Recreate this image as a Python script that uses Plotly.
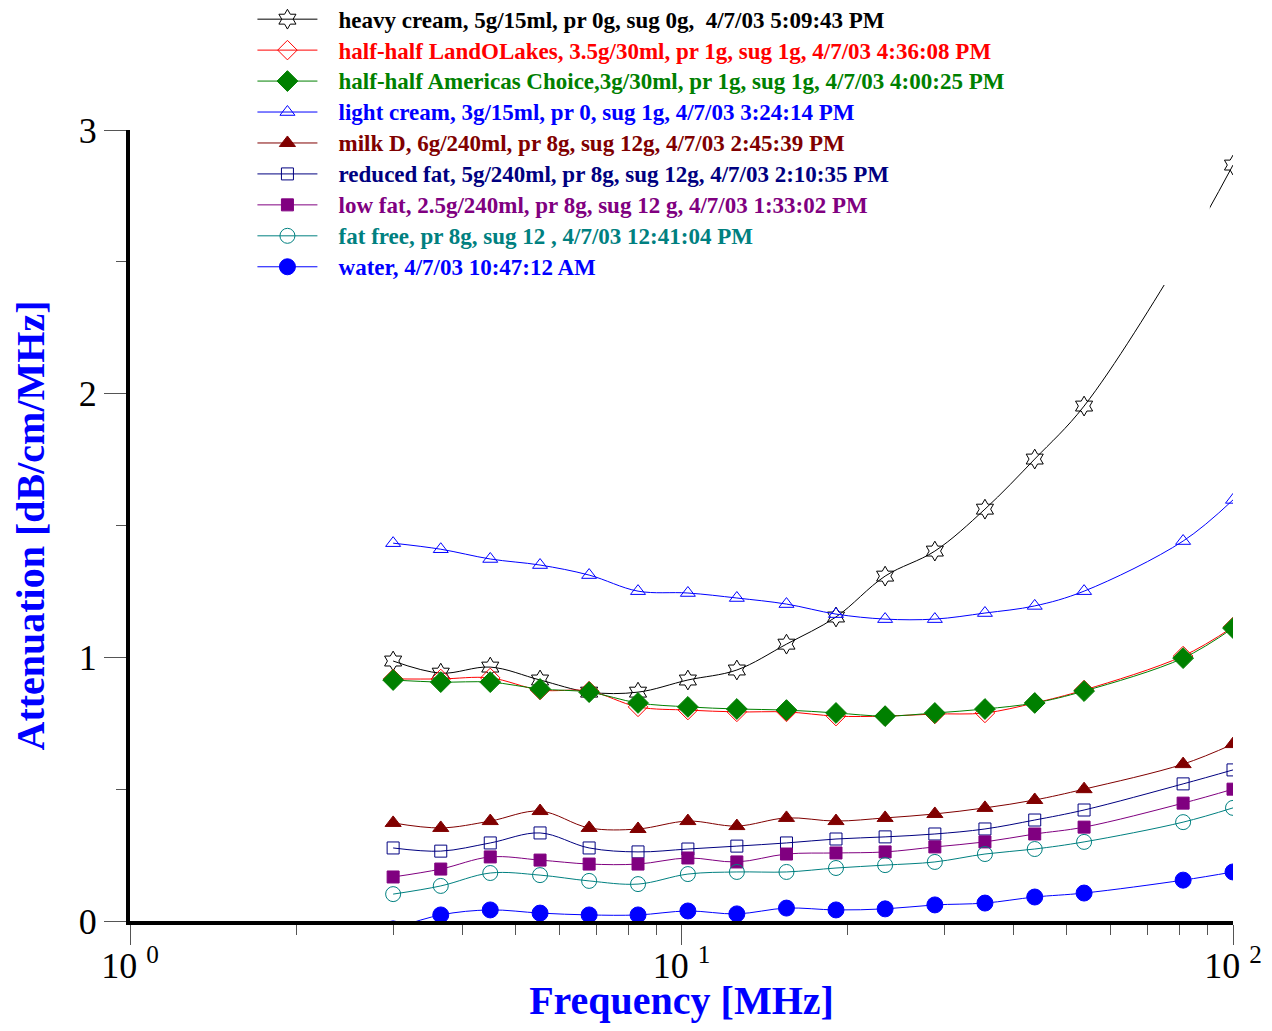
import plotly.graph_objects as go

freq = [3.0, 3.66, 4.5, 5.54, 6.8, 8.34, 10.27, 12.6, 15.5, 19.06, 23.4, 28.8, 35.5, 43.7, 53.7, 81.2, 100.0]

heavy_cream = [0.986, 0.94, 0.963, 0.914, 0.868, 0.868, 0.914, 0.952, 1.05, 1.153, 1.308, 1.403, 1.562, 1.752, 1.953, 2.53, 2.867]
half_landolakes = [0.918, 0.918, 0.922, 0.876, 0.872, 0.812, 0.80, 0.793, 0.793, 0.777, 0.777, 0.785, 0.789, 0.827, 0.876, 1.005, 1.115]
half_americas = [0.914, 0.906, 0.906, 0.88, 0.868, 0.827, 0.812, 0.804, 0.80, 0.789, 0.777, 0.789, 0.804, 0.827, 0.872, 0.997, 1.111]
light_cream = [1.433, 1.41, 1.373, 1.35, 1.312, 1.251, 1.244, 1.225, 1.202, 1.164, 1.145, 1.145, 1.168, 1.195, 1.251, 1.441, 1.597]
milk_d = [0.372, 0.353, 0.379, 0.417, 0.353, 0.349, 0.379, 0.36, 0.391, 0.379, 0.391, 0.406, 0.429, 0.459, 0.50, 0.595, 0.671]
reduced_fat = [0.277, 0.265, 0.296, 0.334, 0.277, 0.262, 0.273, 0.284, 0.296, 0.311, 0.319, 0.33, 0.349, 0.383, 0.421, 0.52, 0.573]
low_fat = [0.167, 0.197, 0.243, 0.231, 0.216, 0.216, 0.239, 0.224, 0.254, 0.258, 0.262, 0.281, 0.30, 0.33, 0.356, 0.447, 0.50]
fat_free = [0.102, 0.133, 0.182, 0.174, 0.152, 0.14, 0.178, 0.186, 0.186, 0.201, 0.212, 0.224, 0.254, 0.273, 0.30, 0.375, 0.429]
water = [-0.03, 0.023, 0.042, 0.03, 0.023, 0.023, 0.038, 0.027, 0.049, 0.042, 0.046, 0.061, 0.068, 0.091, 0.106, 0.155, 0.186]

names = [
    "heavy cream, 5g/15ml, pr 0g, sug 0g,  4/7/03 5:09:43 PM",
    "half-half LandOLakes, 3.5g/30ml, pr 1g, sug 1g, 4/7/03 4:36:08 PM",
    "half-half Americas Choice,3g/30ml, pr 1g, sug 1g, 4/7/03 4:00:25 PM",
    "light cream, 3g/15ml, pr 0, sug 1g, 4/7/03 3:24:14 PM",
    "milk D, 6g/240ml, pr 8g, sug 12g, 4/7/03 2:45:39 PM",
    "reduced fat, 5g/240ml, pr 8g, sug 12g, 4/7/03 2:10:35 PM",
    "low fat, 2.5g/240ml, pr 8g, sug 12 g, 4/7/03 1:33:02 PM",
    "fat free, pr 8g, sug 12 , 4/7/03 12:41:04 PM",
    "water, 4/7/03 10:47:12 AM",
]
series = [heavy_cream, half_landolakes, half_americas, light_cream, milk_d,
          reduced_fat, low_fat, fat_free, water]
colors = ["#000000", "#FF0000", "#008000", "#0000FF", "#800000",
          "#000080", "#800080", "#008080", "#0000FF"]
symbols = ["hexagram-open", "diamond-open", "diamond", "triangle-up-open", "triangle-up",
           "square-open", "square", "circle-open", "circle"]
sizes = [15, 15, 16, 13, 14, 12, 12, 15, 16]

fig = go.Figure()
for nm, ys, c, s, sz in zip(names, series, colors, symbols, sizes):
    fig.add_trace(go.Scatter(
        x=freq, y=ys, mode="lines+markers",
        name=f"\u00a0\u00a0\u00a0<span style='color:{c};font-size:23px'><b>{nm}</b></span>",
        line=dict(color=c, width=1, shape="spline", smoothing=1),
        marker=dict(symbol=s, size=sz, color=c, line=dict(color=c, width=1)),
    ))

tickfont = dict(family="Liberation Serif", size=36, color="black")
titlefont = dict(family="Liberation Serif", size=40, color="#0000FF", weight="bold")

# white legend panel area (the legend panel hides the curve underneath it)
fig.add_shape(type="rect", xref="paper", yref="paper",
              x0=0.113, x1=0.979, y0=0.804, y1=1.17,
              fillcolor="white", line=dict(width=0), layer="above")

fig.update_layout(
    width=1256, height=1015,
    margin=dict(l=122, r=31, t=122, b=102, autoexpand=False),
    paper_bgcolor="white", plot_bgcolor="white",
    showlegend=True,
    legend=dict(
        x=0.111, y=1.166, xanchor="left", yanchor="top",
        font=dict(family="Liberation Serif", size=21.5, color="black"),
        itemwidth=60, bgcolor="rgba(255,255,255,0)", borderwidth=0,
        traceorder="normal",
    ),
    xaxis=dict(
        type="log", range=[0, 2],
        showline=True, linecolor="black", linewidth=4,
        showgrid=False, zeroline=False,
        ticks="outside", ticklen=20, tickwidth=1, tickcolor="#555555",
        ticklabelstandoff=-10,
        tickvals=[1, 10, 100],
        ticktext=["10 <sup>0</sup>", "10 <sup>1</sup>", "10 <sup>2</sup>"],
        tickfont=tickfont,
        minor=dict(ticks="outside", ticklen=10, tickwidth=1, tickcolor="#555555",
                   tickvals=[2, 3, 4, 5, 6, 7, 8, 9, 20, 30, 40, 50, 60, 70, 80, 90]),
        title=dict(text="Frequency [MHz]", font=titlefont, standoff=40),
    ),
    yaxis=dict(
        range=[0, 3],
        showline=True, linecolor="black", linewidth=4,
        showgrid=False, zeroline=False,
        ticks="outside", ticklen=22, tickwidth=1, tickcolor="#555555",
        tickvals=[0, 1, 2, 3], ticktext=["0", "1", "2", "3"],
        tickfont=tickfont,
        minor=dict(ticks="outside", ticklen=10, tickwidth=1, tickcolor="#555555",
                   tickvals=[0.5, 1.5, 2.5]),
        title=dict(text="Attenuation [dB/cm/MHz]", font=titlefont, standoff=30),
    ),
)

fig.write_html("out.html")
